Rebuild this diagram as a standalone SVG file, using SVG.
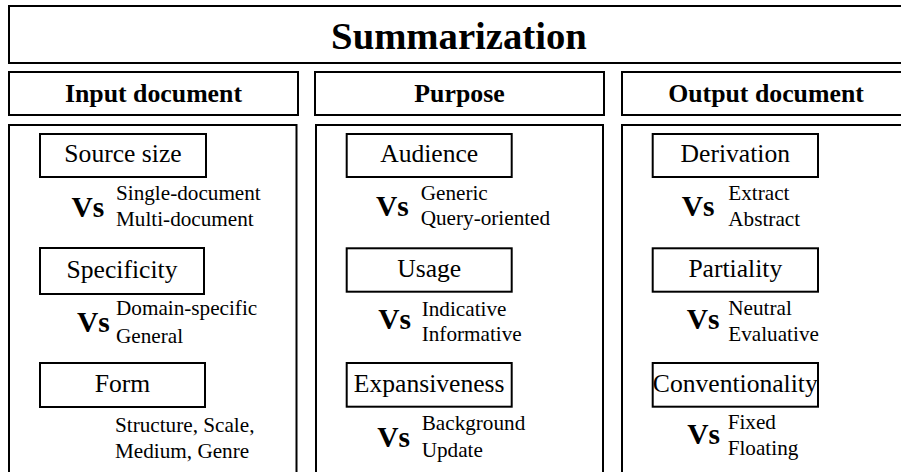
<svg xmlns="http://www.w3.org/2000/svg" width="901" height="472" viewBox="0 0 901 472">
<style>
  .box { fill: #ffffff; stroke: #000000; stroke-width: 2; }
  .title { font-family: "Liberation Serif", "Times New Roman", serif; font-weight: bold; font-size: 38.7px; fill: #000; }
  .hdr { font-family: "Liberation Serif", "Times New Roman", serif; font-weight: bold; font-size: 25.8px; fill: #000; }
  .lbl { font-family: "Liberation Serif", "Times New Roman", serif; font-size: 25.6px; fill: #000; }
  .vs { font-family: "Liberation Serif", "Times New Roman", serif; font-weight: bold; font-size: 29.5px; fill: #000; }
  .sm { font-family: "Liberation Serif", "Times New Roman", serif; font-size: 21.2px; fill: #000; }
</style>
<rect width="901" height="472" fill="#ffffff"/>

<g id="title">
  <rect class="box" x="9" y="6" width="902" height="57"/>
  <text class="title" x="459" y="48.5" text-anchor="middle">Summarization</text>
</g>

<g id="col-input">
  <g id="input-header">
    <rect class="box" x="9" y="72" width="289" height="43"/>
    <text class="hdr" x="153.5" y="101.5" text-anchor="middle">Input document</text>
  </g>
  <rect id="input-panel" class="box" x="9" y="125" width="287.5" height="360"/>
  <g id="source-size">
    <rect class="box" x="40" y="134" width="166" height="43"/>
    <text class="lbl" x="123" y="162" text-anchor="middle">Source size</text>
    <text class="vs" x="71.5" y="216.5">Vs</text>
    <text class="sm" x="116" y="200">Single-document</text>
    <text class="sm" x="116" y="225.5">Multi-document</text>
  </g>
  <g id="specificity">
    <rect class="box" x="40" y="248" width="164" height="46"/>
    <text class="lbl" x="122" y="278" text-anchor="middle">Specificity</text>
    <text class="vs" x="77" y="332">Vs</text>
    <text class="sm" x="116" y="315.3">Domain-specific</text>
    <text class="sm" x="116" y="342.5">General</text>
  </g>
  <g id="form">
    <rect class="box" x="40" y="363" width="165" height="44"/>
    <text class="lbl" x="122.5" y="391.5" text-anchor="middle">Form</text>
    <text class="sm" x="115" y="431.7">Structure, Scale,</text>
    <text class="sm" x="115" y="458">Medium, Genre</text>
  </g>
</g>

<g id="col-purpose">
  <g id="purpose-header">
    <rect class="box" x="315" y="72" width="289" height="43"/>
    <text class="hdr" x="459.5" y="101.5" text-anchor="middle">Purpose</text>
  </g>
  <rect id="purpose-panel" class="box" x="316" y="125" width="287" height="360"/>
  <g id="audience">
    <rect class="box" x="346.7" y="134" width="165" height="43"/>
    <text class="lbl" x="429.2" y="161.7" text-anchor="middle">Audience</text>
    <text class="vs" x="376" y="215.7">Vs</text>
    <text class="sm" x="420.7" y="200">Generic</text>
    <text class="sm" x="420.7" y="225">Query-oriented</text>
  </g>
  <g id="usage">
    <rect class="box" x="346.7" y="248.3" width="165" height="43.4"/>
    <text class="lbl" x="429.2" y="276.7" text-anchor="middle">Usage</text>
    <text class="vs" x="378.3" y="329">Vs</text>
    <text class="sm" x="421.7" y="315.7">Indicative</text>
    <text class="sm" x="421.7" y="341">Informative</text>
  </g>
  <g id="expansiveness">
    <rect class="box" x="346.7" y="363" width="165" height="43.7"/>
    <text class="lbl" x="429.2" y="391.7" text-anchor="middle">Expansiveness</text>
    <text class="vs" x="377.3" y="446.7">Vs</text>
    <text class="sm" x="421.7" y="430">Background</text>
    <text class="sm" x="421.7" y="456.7">Update</text>
  </g>
</g>

<g id="col-output">
  <g id="output-header">
    <rect class="box" x="622" y="72" width="289" height="43"/>
    <text class="hdr" x="766" y="101.5" text-anchor="middle">Output document</text>
  </g>
  <rect id="output-panel" class="box" x="622" y="125" width="289" height="360"/>
  <g id="derivation">
    <rect class="box" x="652.7" y="134" width="165.3" height="43"/>
    <text class="lbl" x="735.3" y="161.7" text-anchor="middle">Derivation</text>
    <text class="vs" x="681.7" y="215.7">Vs</text>
    <text class="sm" x="728.3" y="200">Extract</text>
    <text class="sm" x="728.3" y="226">Abstract</text>
  </g>
  <g id="partiality">
    <rect class="box" x="652.7" y="248.3" width="165.3" height="43.4"/>
    <text class="lbl" x="735.3" y="276.7" text-anchor="middle">Partiality</text>
    <text class="vs" x="686.7" y="329">Vs</text>
    <text class="sm" x="728.3" y="315">Neutral</text>
    <text class="sm" x="728.3" y="341">Evaluative</text>
  </g>
  <g id="conventionality">
    <rect class="box" x="652.7" y="363" width="165.3" height="43.7"/>
    <text class="lbl" x="735.3" y="391.7" text-anchor="middle">Conventionality</text>
    <text class="vs" x="687.3" y="443.7">Vs</text>
    <text class="sm" x="727.7" y="428.7">Fixed</text>
    <text class="sm" x="727.7" y="454.7">Floating</text>
  </g>
</g>

<g id="connectors"></g>
</svg>
